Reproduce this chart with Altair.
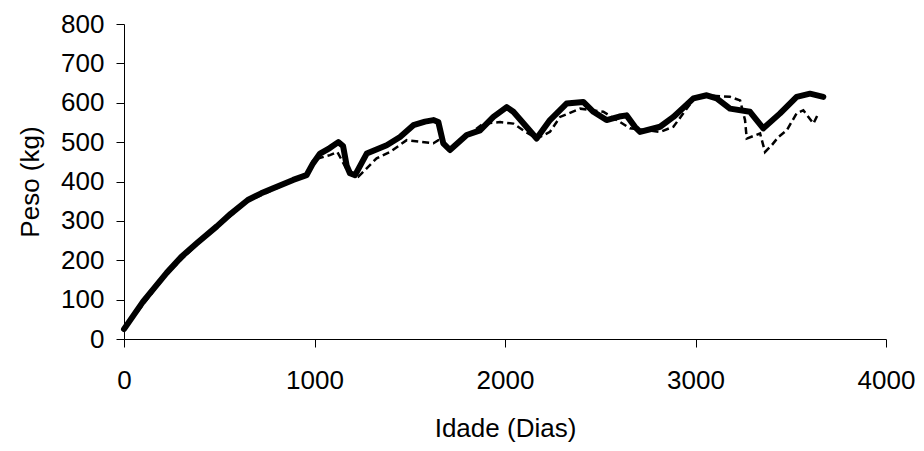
import altair as alt
import pandas as pd

# Solid series (thick line)
solid_dias = [0, 100, 224, 300, 382, 487, 560, 650, 720, 783, 888, 958, 992, 1029, 1080, 1125, 1150,
              1169, 1186, 1213, 1274, 1379, 1449, 1519, 1580, 1624, 1650, 1676, 1711, 1799, 1869,
              1939, 2009, 2044, 2166, 2236, 2323, 2411, 2464, 2533, 2600, 2638, 2682, 2709, 2814,
              2884, 2989, 3059, 3111, 3181, 3286, 3356, 3444, 3531, 3601, 3671]
solid_peso = [25, 95, 168, 208, 243, 286, 318, 353, 370, 383, 404, 416, 446, 471, 485, 500, 490,
              440, 421, 416, 471, 492, 513, 543, 552, 556, 551, 497, 480, 518, 530,
              564, 589, 577, 509, 556, 598, 602, 577, 556, 565, 568, 539, 526, 539,
              564, 611, 619, 611, 585, 577, 535, 573, 615, 623, 615]

# Dashed series (thin line)
dash_dias = [0, 224, 382, 650, 888, 958, 994, 1081, 1120, 1170, 1230, 1326, 1396, 1484, 1554, 1624,
             1650, 1676, 1711, 1799, 1886, 1974, 2044, 2096, 2166, 2236, 2289, 2394, 2516, 2604,
             2656, 2814, 2884, 2989, 3059, 3181, 3234, 3260, 3269, 3339, 3365, 3400, 3435, 3479,
             3531, 3566, 3619, 3645]
dash_peso = [25, 165, 240, 350, 402, 414, 455, 467, 475, 430, 412, 459, 475, 505, 501, 497,
             505, 497, 480, 515, 547, 551, 547, 530, 509, 526, 564, 585, 577, 551,
             535, 526, 539, 608, 619, 615, 606, 556, 509, 522, 475, 492, 513, 530,
             573, 581, 547, 573]

x_ticks = [0, 1000, 2000, 3000, 4000]
y_ticks = [0, 100, 200, 300, 400, 500, 600, 700, 800]

df_solid = pd.DataFrame({"Idade": solid_dias, "Peso": solid_peso})
df_dash = pd.DataFrame({"Idade": dash_dias, "Peso": dash_peso})

FONT = "Liberation Sans"

x_enc = alt.X("Idade:Q", scale=alt.Scale(domain=[0, 4000], nice=False, zero=False),
              axis=alt.Axis(title="Idade (Dias)", values=x_ticks, format="d", grid=False,
                            tickSize=8, labelPadding=20, titlePadding=22, labelFlush=False))
y_enc = alt.Y("Peso:Q", scale=alt.Scale(domain=[0, 800], nice=False),
              axis=alt.Axis(title="Peso (kg)", values=y_ticks, format="d", grid=False,
                            tickSize=8, labelPadding=12, titlePadding=17, labelFlush=False))

dashed = alt.Chart(df_dash).mark_line(color="black", strokeWidth=2.5, strokeDash=[7, 4]).encode(
    x=x_enc, y=y_enc)
solid = alt.Chart(df_solid).mark_line(color="black", strokeWidth=6, strokeCap="round",
                                      strokeJoin="round").encode(x=x_enc, y=y_enc)

chart = alt.layer(dashed, solid).properties(
    width=762, height=315,
    background="white",
    autosize=alt.AutoSizeParams(type="none"),
    padding={"left": 116, "top": 16, "right": 30, "bottom": 104},
).configure_view(stroke=None).configure_axis(
    domainColor="black", tickColor="black", labelColor="black", titleColor="black",
    labelFont=FONT, titleFont=FONT, labelFontSize=26, titleFontSize=26,
    titleFontWeight="normal", domainWidth=1, tickWidth=1,
)

chart.save("out.html", embed_options={"renderer": "svg", "actions": False})
